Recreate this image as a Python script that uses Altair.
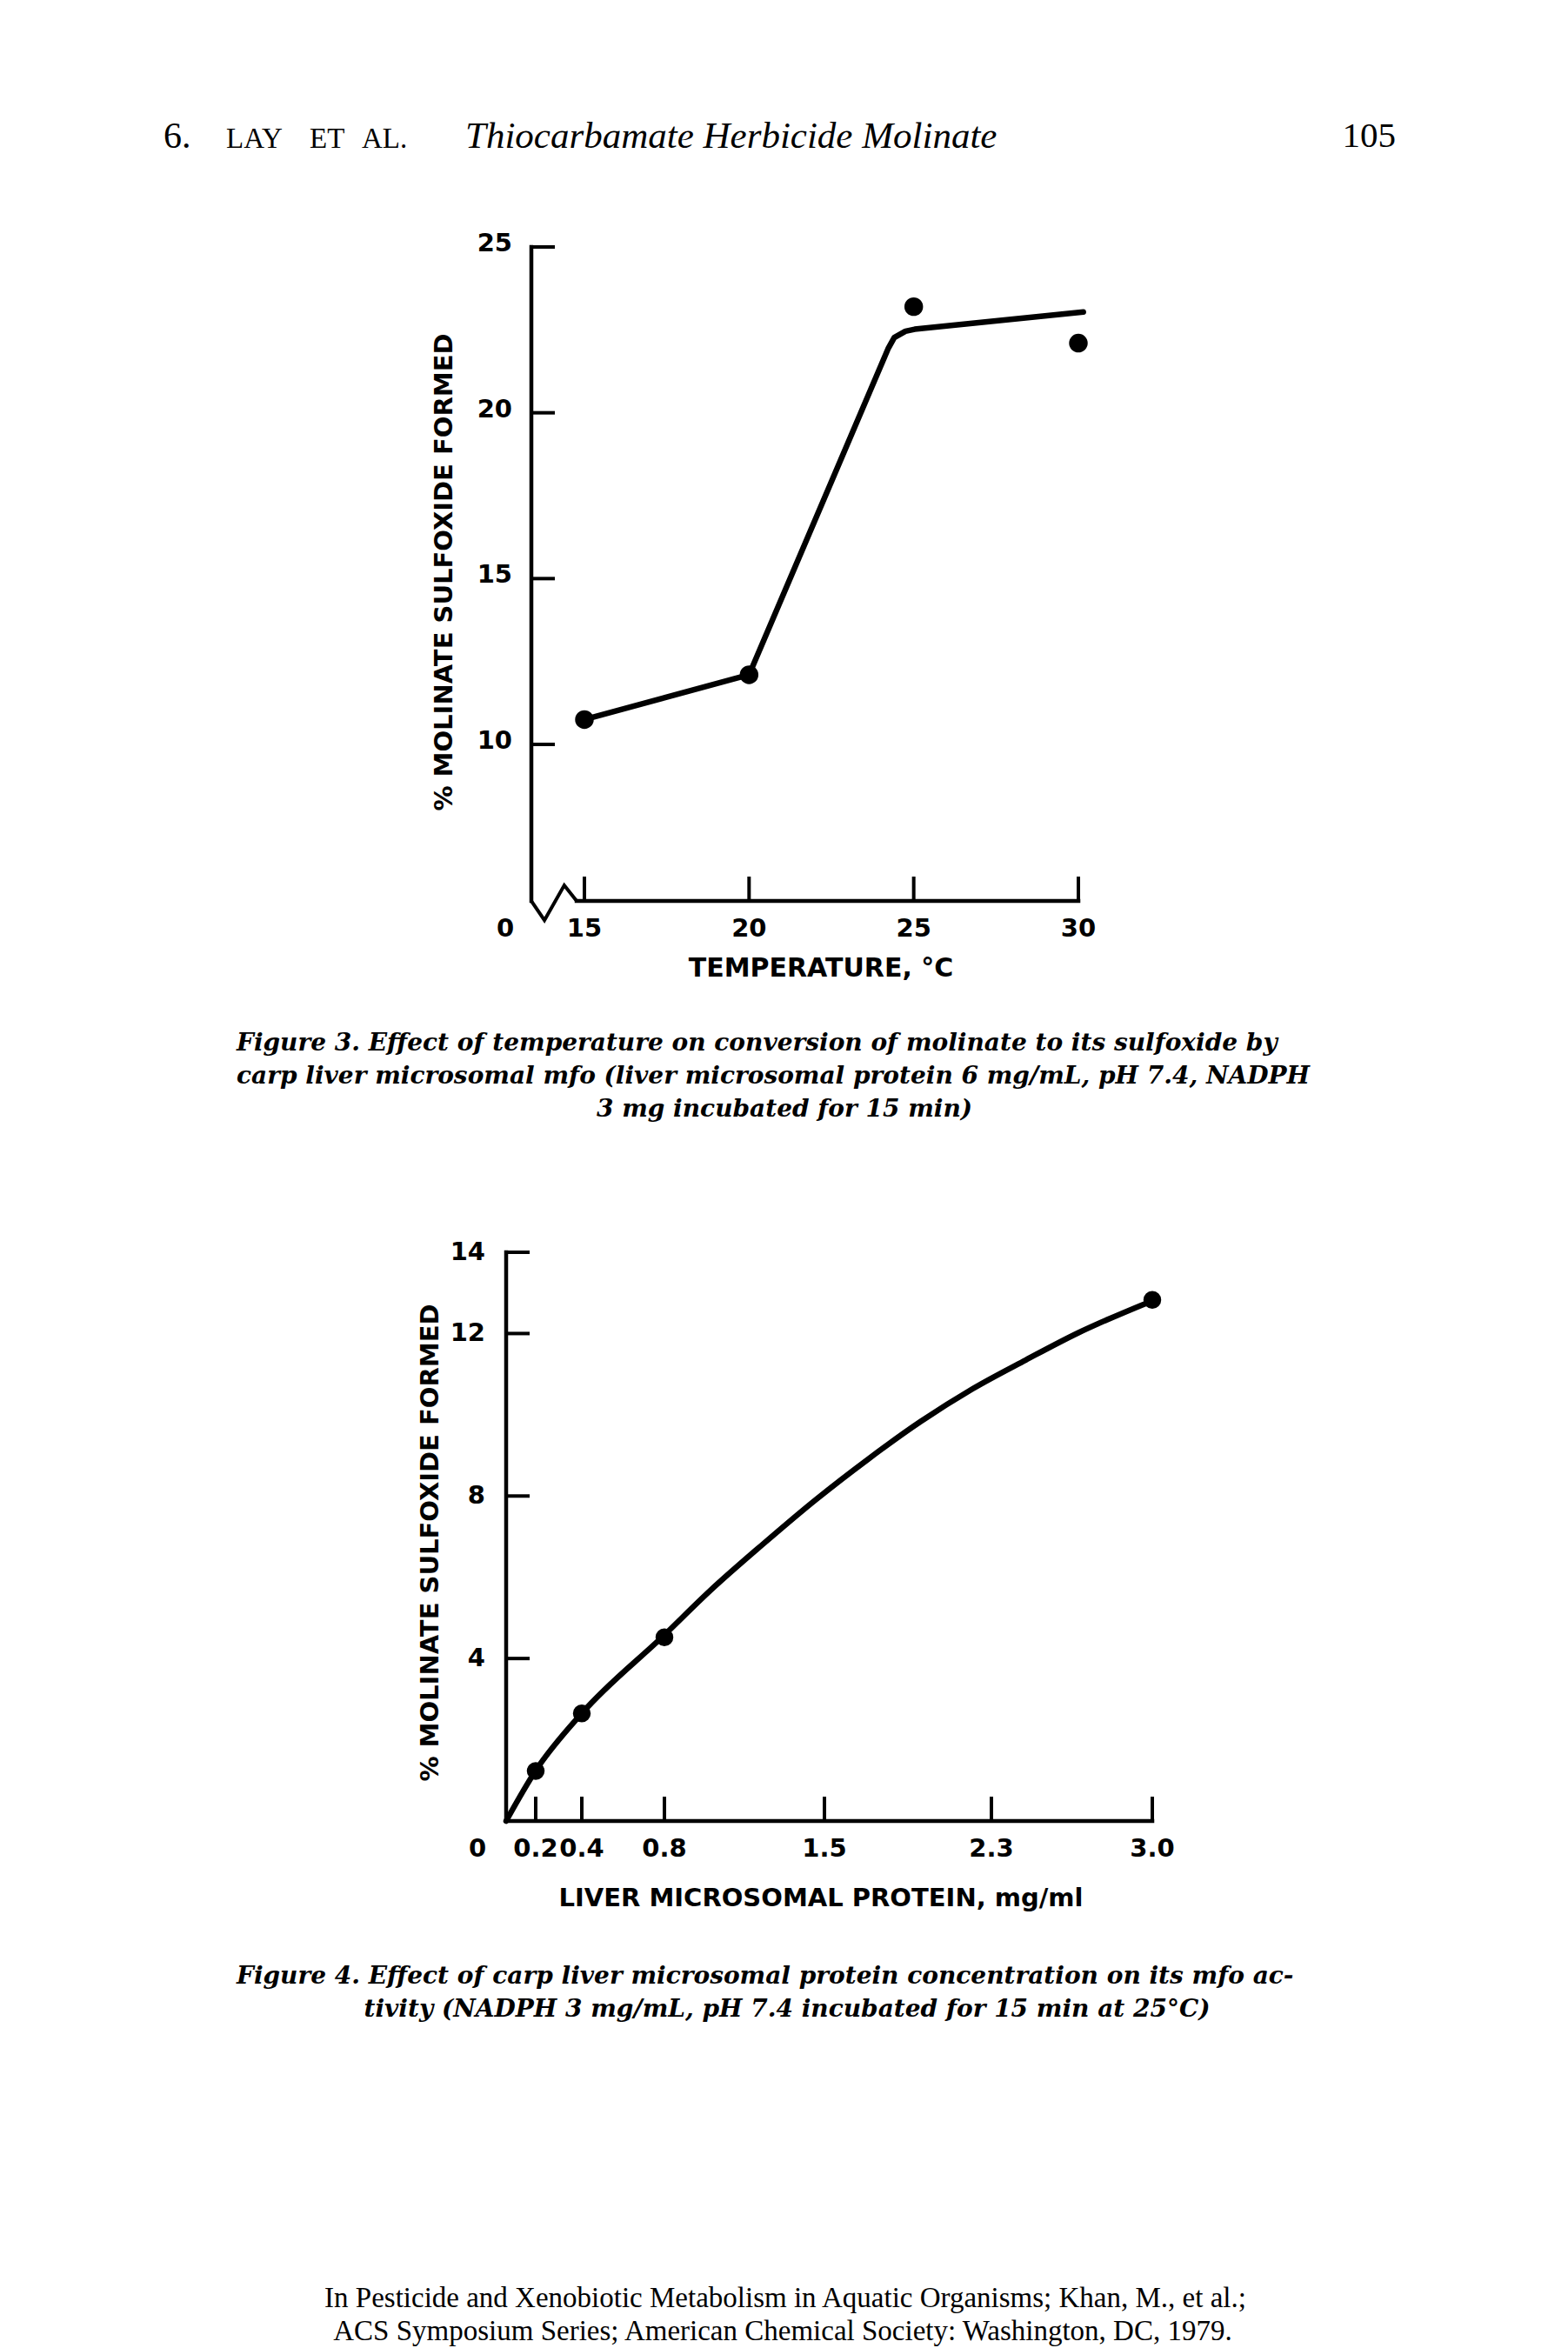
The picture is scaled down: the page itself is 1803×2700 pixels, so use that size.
import altair as alt
import pandas as pd

# ---------------- data ----------------
# Figure 3: temperature series
TEMP_C = [15, 20, 25, 30]
SULFOX_BY_TEMP = [10.75, 12.1, 23.2, 22.1]
FIT3_TEMP = [15, 20, 24.23, 24.41, 24.75, 25.03, 30.15]
FIT3_SULFOX = [10.75, 12.1, 21.95, 22.27, 22.46, 22.52, 23.04]
F3_X_TICKS = [15, 20, 25, 30]
F3_X_LABELS = ["15", "20", "25", "30"]
F3_Y_TICKS = [10, 15, 20, 25]
F3_Y_LABELS = ["10", "15", "20", "25"]
F3_Y_BASE = 5.28          # value at which the x axis sits (broken axis)
BREAK_X = [0, 3.7, 9.3, 12.8]
BREAK_Y = [5.28, 4.70, 5.75, 5.28]

# Figure 4: protein series
PROTEIN = [0.2, 0.4, 0.8, 3.0]
SULFOX_BY_PROTEIN = [1.23, 2.65, 4.52, 12.83]
FIT4_PROTEIN = [0, 0.2, 0.4, 0.8, 1.0, 1.23, 1.46, 1.71, 1.96, 2.21, 2.45, 2.675, 2.98]
FIT4_SULFOX = [0, 1.24, 2.65, 4.58, 5.67, 6.81, 7.90, 8.91, 9.83, 10.64, 11.35, 12.01, 12.76]
F4_X_TICKS = [0.2, 0.4, 0.8, 1.5, 2.3, 3.0]
F4_X_LABELS = ["0.2", "0.4", "0.8", "1.5", "2.3", "3.0"]
F4_Y_TICKS = [4, 8, 12, 14]
F4_Y_LABELS = ["4", "8", "12", "14"]

# ---------------- layout (pixel ranges of the hand-drawn axes) ----------------
S3X = alt.Scale(domain=[0, 15, 30], range=[611, 672, 1240], nice=False, zero=False)
S3Y = alt.Scale(domain=[F3_Y_BASE, 25], range=[1036, 284], nice=False, zero=False)
S4X = alt.Scale(domain=[0, 0.2, 0.4, 0.8, 1.5, 2.3, 3.0],
                range=[582, 616, 669, 764, 948, 1140, 1325], nice=False, zero=False)
S4Y = alt.Scale(domain=[0, 14], range=[2094, 1440], nice=False, zero=False)

SANS = "DejaVu Sans"
SERIF = "Liberation Serif"
CAPSERIF = "DejaVu Serif"
INK = "black"


def X(f, s):
    return alt.X(f, type="quantitative", scale=s, axis=None)


def Y(f, s):
    return alt.Y(f, type="quantitative", scale=s, axis=None)


def text_item(s, x, y, size, font, style="normal", weight="normal", align="left", angle=0):
    return alt.Chart(pd.DataFrame({"t": [s]})).mark_text(
        align=align, baseline="middle", font=font, fontSize=size,
        fontStyle=style, fontWeight=weight, angle=angle, color=INK
    ).encode(x=alt.value(x), y=alt.value(y), text="t:N")


def figure(sx, sy, px, py, fx, fy, ybase, xt, xl, yt, yl, axis_x0, xmax, ymax,
           dot_size, zero_dx, ytick_dy, ylab_dx, interp):
    layers = []
    # axis lines
    ax = pd.DataFrame({"x0": [0], "x1": [xmax], "xa": [axis_x0], "y0": [ybase], "y1": [ymax]})
    layers.append(alt.Chart(ax).mark_rule(color=INK, strokeWidth=4.5, strokeCap="square").encode(
        x=X("x0", sx), y=Y("y0", sy), y2="y1"))
    layers.append(alt.Chart(ax).mark_rule(color=INK, strokeWidth=4.5, strokeCap="square").encode(
        x=X("xa", sx), x2="x1", y=Y("y0", sy)))
    # inward ticks
    ty = pd.DataFrame({"v": yt, "base": [0] * len(yt), "lab": yl})
    layers.append(alt.Chart(ty).mark_rule(color=INK, strokeWidth=4, strokeCap="square", x2Offset=25).encode(
        x=X("base", sx), x2="base", y=Y("v", sy)))
    tx = pd.DataFrame({"v": xt, "base": [ybase] * len(xt), "lab": xl})
    layers.append(alt.Chart(tx).mark_rule(color=INK, strokeWidth=4, strokeCap="square", y2Offset=-26).encode(
        x=X("v", sx), y=Y("base", sy), y2="base"))
    # tick labels
    layers.append(alt.Chart(ty).mark_text(font=SANS, fontWeight="bold", fontSize=29, align="right",
                                          baseline="middle", dx=ylab_dx, dy=ytick_dy, color=INK).encode(
        x=X("base", sx), y=Y("v", sy), text="lab:N"))
    layers.append(alt.Chart(tx).mark_text(font=SANS, fontWeight="bold", fontSize=29, align="center",
                                          baseline="middle", dy=32, color=INK).encode(
        x=X("v", sx), y=Y("base", sy), text="lab:N"))
    z = pd.DataFrame({"x": [0], "y": [ybase], "t": ["0"]})
    layers.append(alt.Chart(z).mark_text(font=SANS, fontWeight="bold", fontSize=29, align="center",
                                         baseline="middle", dx=zero_dx, dy=32, color=INK).encode(
        x=X("x", sx), y=Y("y", sy), text="t:N"))
    # fitted curve
    fit = pd.DataFrame({"x": fx, "y": fy, "i": list(range(len(fx)))})
    layers.append(alt.Chart(fit).mark_line(color=INK, strokeWidth=6.5, interpolate=interp,
                                           strokeCap="round", strokeJoin="round").encode(
        x=X("x", sx), y=Y("y", sy), order="i:Q"))
    # measured points
    pts = pd.DataFrame({"x": px, "y": py})
    layers.append(alt.Chart(pts).mark_circle(color=INK, opacity=1, size=dot_size).encode(
        x=X("x", sx), y=Y("y", sy)))
    return layers


layers = []

# Figure 3
layers += figure(S3X, S3Y, TEMP_C, SULFOX_BY_TEMP, FIT3_TEMP, FIT3_SULFOX, F3_Y_BASE,
                 F3_X_TICKS, F3_X_LABELS, F3_Y_TICKS, F3_Y_LABELS, BREAK_X[-1], 30, 25,
                 460, -30, -4, -22, "linear")
brk = pd.DataFrame({"x": BREAK_X, "y": BREAK_Y, "i": list(range(len(BREAK_X)))})
layers.append(alt.Chart(brk).mark_line(color=INK, strokeWidth=4, strokeJoin="miter").encode(
    x=X("x", S3X), y=Y("y", S3Y), order="i:Q"))

# Figure 4
layers += figure(S4X, S4Y, PROTEIN, SULFOX_BY_PROTEIN, FIT4_PROTEIN, FIT4_SULFOX, 0,
                 F4_X_TICKS, F4_X_LABELS, F4_Y_TICKS, F4_Y_LABELS, 0, 3.0, 14,
                 420, -33, 0, -24, "monotone")

# Axis titles
layers.append(text_item("% MOLINATE SULFOXIDE FORMED", 511, 658, 29, SANS, weight="bold", align="center", angle=270))
layers.append(text_item("TEMPERATURE, °C", 944, 1114, 30, SANS, weight="bold", align="center"))
layers.append(text_item("% MOLINATE SULFOXIDE FORMED", 495, 1774, 29, SANS, weight="bold", align="center", angle=270))
layers.append(text_item("LIVER MICROSOMAL PROTEIN, mg/ml", 944, 2183, 29, SANS, weight="bold", align="center"))

# Running head
layers.append(text_item("6.", 188, 157, 42, SERIF))
layers.append(text_item("LAY", 260, 160, 33, SERIF))
layers.append(text_item("ET", 356, 160, 33, SERIF))
layers.append(text_item("AL.", 416, 160, 33, SERIF))
layers.append(text_item("Thiocarbamate Herbicide Molinate", 535, 157, 43, SERIF, style="italic"))
layers.append(text_item("105", 1605, 157, 41, SERIF, align="right"))

# Captions
CAP = dict(size=28, font=CAPSERIF, style="italic", weight="bold")
layers.append(text_item("Figure 3.  Effect of temperature on conversion of molinate to its sulfoxide by",
                        272, 1200, **CAP))
layers.append(text_item("carp liver microsomal mfo (liver microsomal protein 6 mg/mL, pH 7.4, NADPH",
                        272, 1238, **CAP))
layers.append(text_item("3 mg incubated for 15 min)", 902, 1276, align="center", **CAP))
layers.append(text_item("Figure 4.  Effect of carp liver microsomal protein concentration on its mfo ac-",
                        272, 2273, **CAP))
layers.append(text_item("tivity (NADPH 3 mg/mL, pH 7.4 incubated for 15 min at 25°C)",
                        905, 2311, align="center", **CAP))

# Footer
layers.append(text_item("In Pesticide and Xenobiotic Metabolism in Aquatic Organisms; Khan, M., et al.;",
                        903, 2643, 33, SERIF, align="center"))
layers.append(text_item("ACS Symposium Series; American Chemical Society: Washington, DC, 1979.",
                        900, 2681, 33, SERIF, align="center"))

chart = alt.layer(*layers).resolve_scale(
    x="independent", y="independent"
).properties(
    width=1803, height=2700, padding=0,
    autosize=alt.AutoSizeParams(type="none"),
    background="white",
).configure_view(stroke=None)

chart.save("out.html", embed_options={"renderer": "svg", "actions": False})
